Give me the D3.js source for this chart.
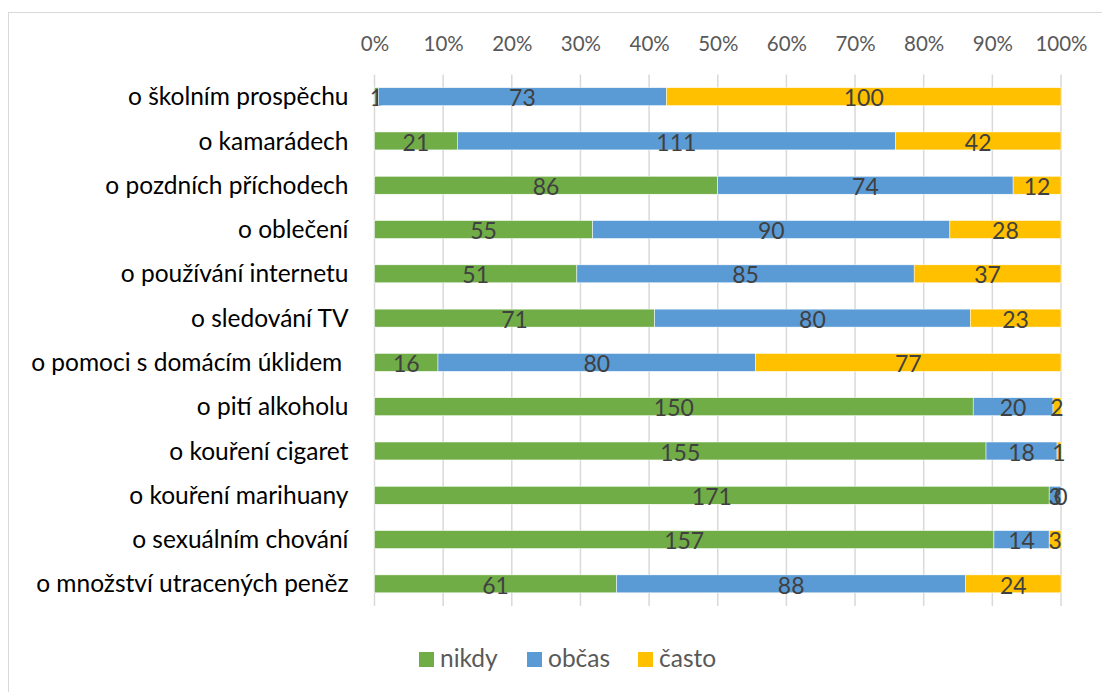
<!DOCTYPE html>
<html>
<head>
<meta charset="utf-8">
<script src="https://cdn.jsdelivr.net/npm/d3@7"></script>
<style>
  body { margin: 0; background: #fff; }
  text { font-family: Lato, "Open Sans", sans-serif; }
</style>
</head>
<body>
<div id="chart"></div>
<script>
var svgWidth = 1102;
var svgHeight = 692;

// Data
var categories = [
  "o školním prospěchu",
  "o kamarádech",
  "o pozdních příchodech",
  "o oblečení",
  "o používání internetu",
  "o sledování TV",
  "o pomoci s domácím úklidem ",
  "o pití alkoholu",
  "o kouření cigaret",
  "o kouření marihuany",
  "o sexuálním chování",
  "o množství utracených peněz"
];
var seriesNames = ["nikdy", "občas", "často"];
var nikdy = [1, 21, 86, 55, 51, 71, 16, 150, 155, 171, 157, 61];
var obcas = [73, 111, 74, 90, 85, 80, 80, 20, 18, 3, 14, 88];
var casto = [100, 42, 12, 28, 37, 23, 77, 2, 1, 0, 3, 24];
var tickValues = [0, 0.1, 0.2, 0.3, 0.4, 0.5, 0.6, 0.7, 0.8, 0.9, 1];
var colors = ["#70AD47", "#5B9BD5", "#FFC000"];

var margin = { top: 74.5, right: 41, bottom: 86, left: 374.5 };
var width = svgWidth - margin.left - margin.right;
var height = svgHeight - margin.top - margin.bottom;

var svg = d3.select("#chart")
  .append("svg")
  .attr("width", svgWidth)
  .attr("height", svgHeight);

// chart border
svg.append("rect")
  .attr("x", 8.5)
  .attr("y", 12.5)
  .attr("width", 1200)
  .attr("height", 800)
  .attr("fill", "none")
  .attr("stroke", "#d9d9d9")
  .attr("stroke-width", 1);

var chartGroup = svg.append("g")
  .attr("transform", `translate(${margin.left}, ${margin.top})`);

// build rows
var rows = categories.map(function(c, i) {
  return { cat: c, nikdy: nikdy[i], "občas": obcas[i], "často": casto[i] };
});
rows.forEach(function(r) {
  r.total = r.nikdy + r["občas"] + r["často"];
});

var stack = d3.stack()
  .keys(seriesNames)
  .value(function(d, key) { return d[key] / d.total; });
var stacked = stack(rows);

var xScale = d3.scaleLinear().domain([0, 1]).range([0, width]);
var yScale = d3.scaleBand()
  .domain(categories)
  .range([0, height])
  .paddingInner(0.595)
  .paddingOuter(0.2975);

// gridlines
chartGroup.selectAll(".grid")
  .data(tickValues)
  .enter()
  .append("line")
  .attr("x1", d => xScale(d))
  .attr("x2", d => xScale(d))
  .attr("y1", 0)
  .attr("y2", height)
  .attr("stroke", "#d9d9d9")
  .attr("stroke-width", 1.5);

// top axis labels
var topAxis = d3.axisTop(xScale)
  .tickValues(tickValues)
  .tickFormat(d3.format(".0%"))
  .tickSize(0)
  .tickPadding(24);

var axisG = chartGroup.append("g").call(topAxis);
axisG.select(".domain").remove();
axisG.selectAll("text")
  .attr("font-family", "Lato, sans-serif")
  .attr("font-size", "20.5px")
  .attr("fill", "#595959");

// category labels
chartGroup.selectAll(".cat")
  .data(categories)
  .enter()
  .append("text")
  .attr("x", -26)
  .attr("y", d => yScale(d) + yScale.bandwidth() / 2)
  .attr("dy", "0.35em")
  .attr("text-anchor", "end")
  .attr("font-size", "24.5px")
  .attr("fill", "#000")
  .style("white-space", "pre")
  .text(d => d);

// bars
var layers = chartGroup.selectAll(".layer")
  .data(stacked)
  .enter()
  .append("g")
  .attr("fill", (d, i) => colors[i]);

layers.selectAll("rect")
  .data(d => d)
  .enter()
  .append("rect")
  .attr("x", d => xScale(d[0]))
  .attr("y", d => yScale(d.data.cat))
  .attr("width", d => xScale(d[1]) - xScale(d[0]))
  .attr("height", yScale.bandwidth())
  .attr("stroke", "#ffffff")
  .attr("stroke-width", 0.5);

// data labels
layers.selectAll(".lbl")
  .data(function(d) {
    var key = d.key;
    return d.map(function(p) { return { p: p, v: p.data[key] }; });
  })
  .enter()
  .append("text")
  .attr("x", d => xScale((d.p[0] + d.p[1]) / 2))
  .attr("y", d => yScale(d.p.data.cat) + yScale.bandwidth() / 2)
  .attr("dy", "0.42em")
  .attr("text-anchor", "middle")
  .attr("font-size", "23px")
  .attr("fill", "#404040")
  .text(d => d.v);

// legend
var legendX = [419, 527, 638];
var legend = svg.append("g");
seriesNames.forEach(function(name, i) {
  legend.append("rect")
    .attr("x", legendX[i])
    .attr("y", 652)
    .attr("width", 15)
    .attr("height", 15)
    .attr("fill", colors[i]);
  legend.append("text")
    .attr("x", legendX[i] + 21)
    .attr("y", 667)
    .attr("font-size", "24.5px")
    .attr("fill", "#595959")
    .text(name);
});
</script>
</body>
</html>
